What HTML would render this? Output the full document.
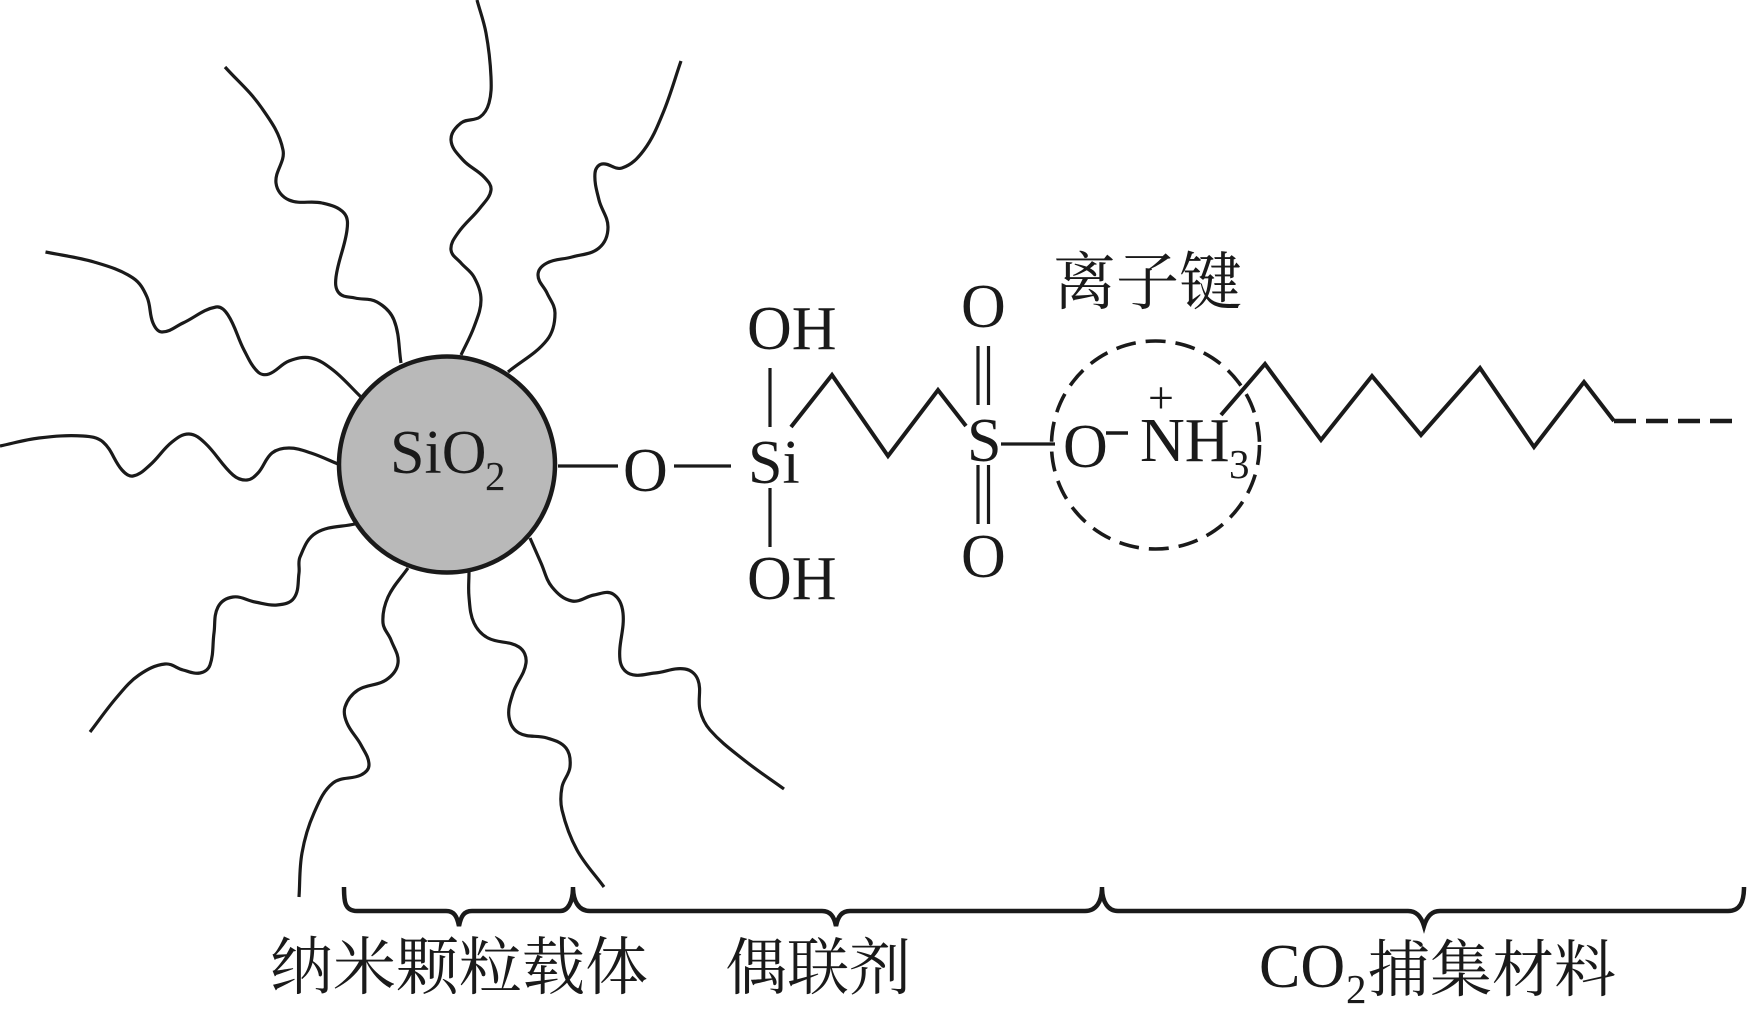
<!DOCTYPE html>
<html><head><meta charset="utf-8"><style>
html,body{margin:0;padding:0;background:#fff;width:1747px;height:1023px;overflow:hidden}
svg{display:block}
text{font-family:"Liberation Serif","Noto Serif CJK SC",serif;fill:#1a1a1a;font-size:62px}
.s{font-size:41px}
.l{fill:none;stroke:#1a1a1a;stroke-width:3.2}
</style></head><body>
<svg id="v" width="1747" height="1023" viewBox="0 0 1747 1023" xmlns="http://www.w3.org/2000/svg">
<g id="chains" class="l"></g>
<circle cx="447" cy="464.500" r="108" fill="#b9b9b9" stroke="#1a1a1a" stroke-width="4.500"/>
<text x="390" y="473">SiO</text><text class="s" x="485" y="490">2</text>
<g class="l">
<path d="M558 466H618M674 466H731M770 368V427M770 488V547"/>
<path d="M791 427L832 375L888 456L938 390L966 426" stroke-width="4"/>
<path d="M978 346V405M988.500 346V405M978 465V524M988.500 465V524M1001 444H1055"/>
<path d="M1106 433H1128" stroke-width="3.500"/>
<path d="M1221 415L1265 364L1321 440L1372 376L1421 435L1480 368L1534 447L1584 382L1614 421" stroke-width="4"/>
<path d="M1614 421H1736" stroke-width="4.500" stroke-dasharray="22 10"/>
<circle cx="1155.500" cy="445" r="104" stroke-width="3.600" stroke-dasharray="20 10"/>
<path d="M344 887C344 900 344 911 357 911H446C454 911 457 916 459 926C461 916 464 911 472 911H560C568 911 573 902 573 887C573 900 578 911 590 911H822C830 911 834 916 836 926C838 916 842 911 850 911H1085C1096 911 1102 902 1102 887C1102 902 1108 911 1118 911H1408C1416 911 1421 916 1424 926C1427 916 1432 911 1440 911H1728C1740 911 1744 902 1744 887" stroke-width="4.500"/>
</g>
<text x="623" y="491">O</text>
<text x="748" y="483">Si</text>
<text x="747" y="349">OH</text>
<text x="747" y="599">OH</text>
<text x="967" y="461">S</text>
<text x="961" y="327">O</text>
<text x="961" y="577">O</text>
<text x="1063" y="467">O</text>
<text x="1140" y="461">NH</text>
<text class="s" x="1229" y="478">3</text>
<text x="1148" y="413" style="font-size:46px">+</text>
<text x="1053" y="304" style="font-size:63px">离子键</text>
<text x="270" y="989" style="font-size:63px">纳米颗粒载体</text>
<text x="725" y="989" style="font-size:62px">偶联剂</text>
<text x="1259" y="987">CO</text><text class="s" x="1346" y="1003">2</text>
<text x="1368" y="991" style="font-size:62px">捕集材料</text>
</svg>
<script>
var C=[
[[477,0],[486,33],[491,77],[489,103],[480,117],[461,123],[451,140],[463,160],[484,177],[491,190],[480,208],[458,233],[451,250],[461,263],[474,277],[481,300],[474,327],[461,355]],
[[681,61],[663,113],[644,150],[622,168],[602,164],[595,173],[599,200],[608,227],[599,248],[572,257],[547,263],[538,275],[547,293],[555,313],[547,340],[508,372]],
[[225,67],[261,107],[283,150],[276,183],[289,200],[322,203],[344,213],[347,230],[336,277],[339,293],[355,298],[377,302],[394,320],[401,363]],
[[45.5,252],[94,262],[133,278],[147,297],[153,323],[162,332],[183,323],[216,307],[228,315],[244,350],[258,372],[269,374],[289,361],[311,358],[333,370],[361,397]],
[[0,446],[39,438],[83,436],[103,442],[122,470],[133,476],[150,465],[172,442],[189,434],[205,443],[233,475],[247,480],[258,473],[272,453],[289,448],[311,453],[338,464]],
[[90,732],[117,697],[139,675],[165,664],[183,670],[200,673],[210,665],[214,633],[218,607],[233,597],[255,602],[277,605],[294,598],[299,573],[300,557],[316,533],[355,524]],
[[299,897],[302,853],[314,813],[333,783],[361,775],[369,765],[361,745],[347,723],[345,707],[358,690],[386,680],[398,663],[391,640],[383,623],[388,597],[408,568]],
[[604,887],[577,850],[562,810],[562,787],[570,767],[566,748],[547,738],[519,733],[509,717],[513,693],[526,663],[519,647],[488,638],[474,623],[469,597],[469,572]],
[[784,789],[744,760],[710,730],[700,710],[698,680],[685,669],[655,673],[630,674],[620,660],[623,613],[613,594],[594,595],[572,601],[552,587],[541,563],[530,538]]
];
var g=document.getElementById('chains'),NS='http://www.w3.org/2000/svg';
function tan(p,i){
 var a=p[Math.max(i-1,0)],c=p[Math.min(i+1,p.length-1)],dx=c[0]-a[0],dy=c[1]-a[1],m=Math.sqrt(dx*dx+dy*dy)||1;
 return [dx/m,dy/m];
}
C.forEach(function(p){
 var d='M'+p[0][0]+' '+p[0][1];
 for(var i=0;i<p.length-1;i++){
  var b=p[i],c=p[i+1],L=Math.sqrt(Math.pow(c[0]-b[0],2)+Math.pow(c[1]-b[1],2))*0.36,t0=tan(p,i),t1=tan(p,i+1);
  d+='C'+(b[0]+t0[0]*L).toFixed(1)+' '+(b[1]+t0[1]*L).toFixed(1)+' '+(c[0]-t1[0]*L).toFixed(1)+' '+(c[1]-t1[1]*L).toFixed(1)+' '+c[0]+' '+c[1];
 }
 var n=document.createElementNS(NS,'path');n.setAttribute('d',d);g.appendChild(n);
});
</script>
</body></html>
